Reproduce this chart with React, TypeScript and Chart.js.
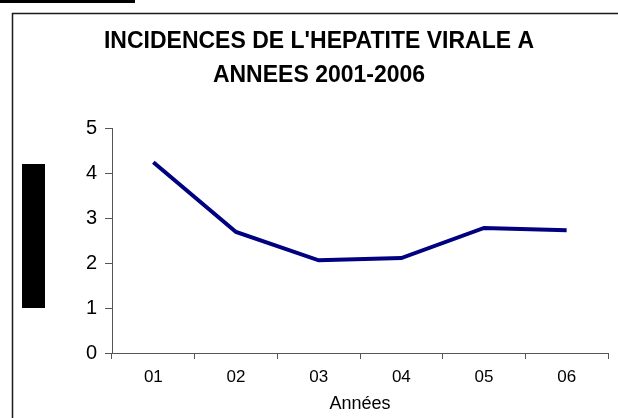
import React, { useEffect, useRef } from "react";
import { Chart, registerables } from "chart.js";

Chart.register(...registerables);

const titleLines = ["INCIDENCES DE L'HEPATITE VIRALE A", "ANNEES 2001-2006"];
const categories = ["01", "02", "03", "04", "05", "06"];
const incidence = [4.24, 2.69, 2.06, 2.11, 2.78, 2.73];
const xAxisTitle = "Années";
const yMin = 0;
const yMax = 5;
const yStep = 1;

const FONT = "'Liberation Sans', Arial, sans-serif";

const framePlugin = {
  id: "frame",
  beforeDraw(chart: any) {
    const ctx = chart.ctx;
    ctx.save();
    ctx.fillStyle = "#ffffff";
    ctx.fillRect(0, 0, chart.width, chart.height);
    ctx.strokeStyle = "#1a1a1a";
    ctx.lineWidth = 1.5;
    ctx.strokeRect(12.5, 13.5, chart.width, chart.height);
    ctx.fillStyle = "#000000";
    ctx.fillRect(0, 0, 135, 3);
    ctx.restore();
  },
  afterDraw(chart: any) {
    const ctx = chart.ctx;
    const y = chart.scales.y;
    ctx.save();
    ctx.fillStyle = "#000000";
    // redacted y-axis title block
    ctx.fillRect(22, y.getPixelForValue(4.2), 23, y.getPixelForValue(1) - y.getPixelForValue(4.2));
    ctx.restore();
  },
};

export default function App() {
  const ref = useRef<HTMLCanvasElement | null>(null);
  useEffect(() => {
    if (!ref.current) return;
    const chart = new Chart(ref.current, {
      type: "line",
      data: {
        labels: categories,
        datasets: [
          {
            data: incidence,
            borderColor: "#000080",
            borderWidth: 4,
            pointRadius: 0,
            tension: 0,
            fill: false,
          },
        ],
      },
      options: {
        responsive: false,
        animation: false,
        layout: { padding: { left: 30, right: 10, top: 24, bottom: 0 } },
        plugins: {
          legend: { display: false },
          tooltip: { enabled: false },
          title: {
            display: true,
            text: titleLines,
            color: "#000000",
            font: { family: FONT, size: 23, weight: "bold", lineHeight: 1.5 },
            padding: { top: 0, bottom: 35 },
          },
        },
        scales: {
          x: {
            offset: true,
            grid: {
              offset: true,
              drawOnChartArea: false,
              drawTicks: true,
              tickLength: 6,
              color: "#555555",
            },
            border: { color: "#555555", width: 1 },
            ticks: {
              color: "#000000",
              font: { family: FONT, size: 17 },
              padding: 8,
              maxRotation: 0,
            },
            title: {
              display: true,
              text: xAxisTitle,
              color: "#000000",
              font: { family: FONT, size: 18 },
              padding: { top: 0, bottom: 3 },
            },
            afterFit(scale: any) {
              scale.height = 65;
            },
          },
          y: {
            min: yMin,
            max: yMax,
            grid: {
              drawOnChartArea: false,
              drawTicks: true,
              tickLength: 7,
              color: "#555555",
            },
            border: { color: "#555555", width: 1 },
            ticks: {
              stepSize: yStep,
              color: "#000000",
              font: { family: FONT, size: 20 },
              padding: 8,
            },
            afterFit(scale: any) {
              scale.width = 82;
            },
          },
        },
      },
      plugins: [framePlugin],
    });
    return () => chart.destroy();
  }, []);
  return (
    <div style={{ position: "absolute", left: 0, top: 0, width: 618, height: 418 }}>
      <canvas ref={ref} width={618} height={418} />
    </div>
  );
}
